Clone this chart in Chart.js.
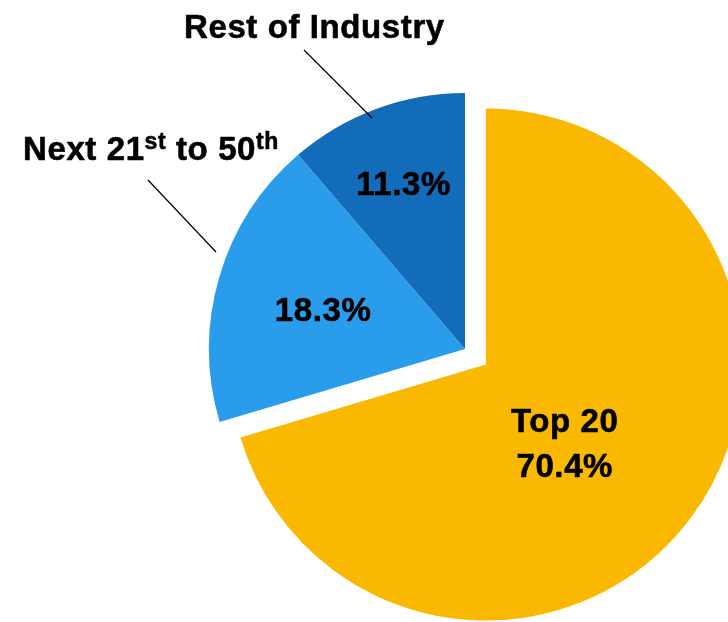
<!DOCTYPE html>
<html>
<head>
<meta charset="utf-8">
<script src="https://cdn.jsdelivr.net/npm/chart.js@4/dist/chart.umd.min.js"></script>
<style>
  html, body { margin: 0; padding: 0; background: #ffffff; }
  #wrap { position: relative; width: 728px; height: 622px; }
</style>
</head>
<body>
<div id="wrap"><canvas id="share"></canvas></div>
<script>
// Market share by company group
const segments = ['Top 20', 'Next 21st to 50th', 'Rest of Industry'];
const shares = [70.4, 18.3, 11.3];
const sliceColors = ['#FAB900', '#299DEB', '#136CB9'];

// Text printed inside each slice (name line only on the largest slice)
const insideNames = ['Top 20', null, null];

// Caption pieces for the two callouts; `sup` marks superscript runs
const calloutNext = [
  { text: 'Next 21', sup: false },
  { text: 'st', sup: true },
  { text: ' to 50', sup: false },
  { text: 'th', sup: true }
];
const calloutRest = [{ text: 'Rest of Industry', sup: false }];

// Placement of in-slice labels: fraction of radius and angular nudge (deg)
const insideSpots = [
  { frac: 0.436, turn: 8.3 },
  { frac: 0.575, turn: -1.0 },
  { frac: 0.69, turn: 0 }
];

const FONT = '"Liberation Sans", Arial, Helvetica, sans-serif';
const MAIN_SIZE = 33;
const SUP_SIZE = 23;

// Pull the first slice away from the centre by a fixed distance
const explodePlugin = {
  id: 'explodeSlice',
  afterDatasetsUpdate(chart, args, opts) {
    const meta = chart.getDatasetMeta(0);
    const ref = meta.data[1];
    const el = meta.data[opts.index];
    const mid = (el.startAngle + el.endAngle) / 2;
    el.x = ref.x + Math.cos(mid) * opts.distance;
    el.y = ref.y + Math.sin(mid) * opts.distance;
  }
};

// Bold text with a hairline stroke for a heavier face
function heavyText(ctx, text, x, y) {
  ctx.fillText(text, x, y);
  ctx.strokeText(text, x, y);
}

function drawRuns(ctx, runs, x, baseline) {
  let cx = x;
  runs.forEach(r => {
    ctx.font = 'bold ' + (r.sup ? SUP_SIZE : MAIN_SIZE) + 'px ' + FONT;
    const y = r.sup ? baseline - 11 : baseline;
    heavyText(ctx, r.text, cx, y);
    cx += ctx.measureText(r.text).width;
  });
}

const labelPlugin = {
  id: 'sliceLabels',
  afterDatasetsDraw(chart) {
    const ctx = chart.ctx;
    const meta = chart.getDatasetMeta(0);
    ctx.save();
    ctx.fillStyle = '#000000';
    ctx.strokeStyle = '#000000';
    ctx.lineWidth = 0.6;
    ctx.lineJoin = 'round';
    ctx.letterSpacing = '0.6px';
    ctx.textBaseline = 'alphabetic';

    // values inside slices
    ctx.textAlign = 'center';
    ctx.font = 'bold ' + MAIN_SIZE + 'px ' + FONT;
    meta.data.forEach((el, i) => {
      const spot = insideSpots[i];
      const ang = (el.startAngle + el.endAngle) / 2 + spot.turn * Math.PI / 180;
      const r = el.outerRadius * spot.frac;
      const cx = el.x + Math.cos(ang) * r;
      const cy = el.y + Math.sin(ang) * r;
      const pct = shares[i].toFixed(1) + '%';
      if (insideNames[i]) {
        heavyText(ctx, insideNames[i], cx, cy - 11);
        heavyText(ctx, pct, cx, cy + 34);
      } else {
        heavyText(ctx, pct, cx, cy + 11.5);
      }
    });

    // callout captions
    ctx.textAlign = 'left';
    drawRuns(ctx, calloutRest, 184, 38);
    drawRuns(ctx, calloutNext, 23, 160);

    // leader lines
    ctx.letterSpacing = '0px';
    ctx.lineWidth = 1.2;
    ctx.lineCap = 'butt';
    ctx.beginPath();
    ctx.moveTo(304, 50);
    ctx.lineTo(372, 118);
    ctx.moveTo(148, 180);
    ctx.lineTo(216, 252);
    ctx.stroke();
    ctx.restore();
  }
};

new Chart(document.getElementById('share'), {
  type: 'pie',
  data: {
    labels: segments,
    datasets: [{
      data: shares,
      backgroundColor: sliceColors,
      borderWidth: 0,
      hoverOffset: 0
    }]
  },
  options: {
    responsive: true,
    maintainAspectRatio: false,
    animation: false,
    events: [],
    radius: 256,
    layout: { padding: { left: 202, right: 0, top: 76, bottom: 0 } },
    plugins: {
      legend: { display: false },
      tooltip: { enabled: false },
      explodeSlice: { index: 0, distance: 26 }
    }
  },
  plugins: [explodePlugin, labelPlugin]
});
</script>
</body>
</html>
